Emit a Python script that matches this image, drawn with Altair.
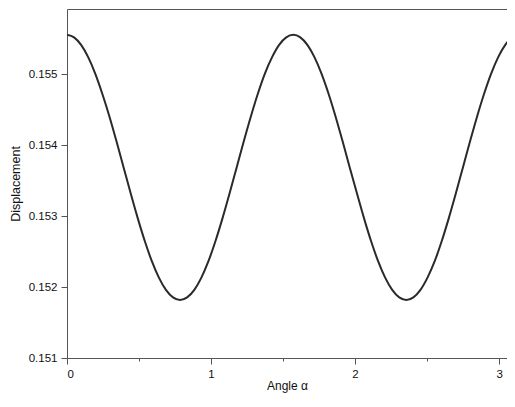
import altair as alt
import pandas as pd

angle = [0.000,0.049,0.098,0.147,0.196,0.245,0.295,0.344,0.393,0.442,0.491,0.540,0.589,0.638,0.687,0.736,0.785,
         0.834,0.884,0.933,0.982,1.031,1.080,1.129,1.178,1.227,1.276,1.325,1.374,1.424,1.473,1.522,1.571,
         1.620,1.669,1.718,1.767,1.816,1.865,1.914,1.963,2.013,2.062,2.111,2.160,2.209,2.258,2.307,2.356,
         2.405,2.454,2.503,2.553,2.602,2.651,2.700,2.749,2.798,2.847,2.896,2.945,2.994,3.043,3.093,3.142]
displacement = [0.155556,0.155520,0.155414,0.155241,0.155009,0.154725,0.154402,0.154052,0.153687,
                0.153322,0.152972,0.152649,0.152365,0.152133,0.151960,0.151854,0.151818,
                0.151854,0.151960,0.152133,0.152365,0.152649,0.152972,0.153322,0.153687,
                0.154052,0.154402,0.154725,0.155009,0.155241,0.155414,0.155520,0.155556,
                0.155520,0.155414,0.155241,0.155009,0.154725,0.154402,0.154052,0.153687,
                0.153322,0.152972,0.152649,0.152365,0.152133,0.151960,0.151854,0.151818,
                0.151854,0.151960,0.152133,0.152365,0.152649,0.152972,0.153322,0.153687,
                0.154052,0.154402,0.154725,0.155009,0.155241,0.155414,0.155520,0.155556]
x_ticks = [0, 0.5, 1, 1.5, 2, 2.5, 3]
y_ticks = [0.151, 0.1515, 0.152, 0.1525, 0.153, 0.1535, 0.154, 0.1545, 0.155, 0.1555]

df = pd.DataFrame({"angle": angle, "disp": displacement})

FONT = "Liberation Sans"
x_scale = alt.Scale(domain=[0, 3.055], nice=False, zero=False)
y_scale = alt.Scale(domain=[0.151, 0.15592], nice=False, zero=False)

line = alt.Chart(df).mark_line(color="#2a2a2a", strokeWidth=2, clip=True, interpolate="monotone").encode(
    x=alt.X("angle:Q", title="Angle α", scale=x_scale,
            axis=alt.Axis(values=x_ticks, grid=False, domainColor="#555", tickColor="#555",
                          tickSize={"condition": {"test": "datum.value % 1 != 0", "value": 3}, "value": 6},
                          labelExpr="datum.value % 1 == 0 ? format(datum.value, 'd') : ''",
                          labelFont=FONT, labelFontSize=11.5, labelColor="#111", labelPadding=4,
                          titleFont=FONT, titleFontSize=12, titleFontWeight="normal", titleColor="#111",
                          titlePadding=1)),
    y=alt.Y("disp:Q", title="Displacement", scale=y_scale,
            axis=alt.Axis(values=y_ticks, grid=False, domainColor="#555", tickColor="#555",
                          tickSize={"condition": {"test": "round(datum.value*2000) % 2 == 1", "value": 3}, "value": 6},
                          labelExpr="round(datum.value*2000) % 2 == 0 ? format(datum.value, '.3f') : ''",
                          labelFont=FONT, labelFontSize=11.5, labelColor="#111", labelPadding=4,
                          titleFont=FONT, titleFontSize=12.5, titleFontWeight="normal", titleColor="#111",
                          titlePadding=6)),
)

top_frame = alt.Chart(df).mark_line(opacity=0, clip=True).encode(
    x=alt.X("angle:Q", scale=x_scale,
            axis=alt.Axis(orient="top", labels=False, ticks=False, title=None, grid=False,
                          domainColor="#555")),
    y=alt.Y("disp:Q", scale=y_scale),
)

chart = alt.layer(line, top_frame).resolve_axis(x="independent").properties(
    width=440, height=349,
    autosize=alt.AutoSizeParams(type="none"),
    padding={"left": 59, "top": 1, "right": 0, "bottom": 38},
).configure_view(strokeWidth=0)

chart.save("out.html", embed_options={"renderer": "svg", "actions": False})
